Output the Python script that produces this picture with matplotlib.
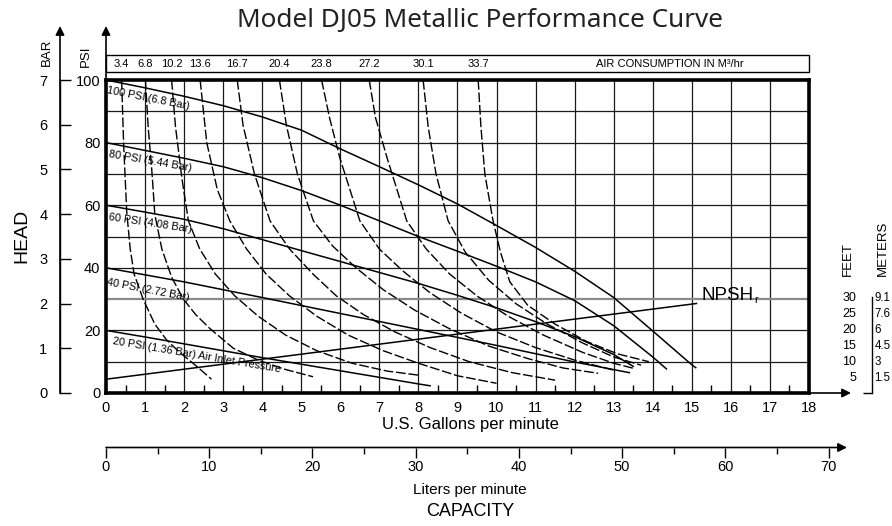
import numpy as np
import matplotlib.pyplot as plt
from matplotlib.patches import FancyArrowPatch, Rectangle
from matplotlib.transforms import blended_transform_factory

plt.rcParams['font.family'] = ['Liberation Sans', 'DejaVu Sans']

W, H = 892, 526

# air inlet pressure curves: capacity (US gpm) vs head (psi)
p100_gpm = [0, 1, 2, 3, 4, 5, 6, 7, 8, 9, 10, 11, 12, 13, 14, 15, 15.1]
p100_psi = [100, 97.5, 94.8, 91.8, 88.2, 84, 78, 72.3, 66.5, 60.4, 53.5, 46.5, 38.9, 30.5, 19.8, 9.0, 8.1]
p80_gpm = [0, 1, 2, 3, 4, 5, 6, 7, 8, 9, 10, 11, 12, 13, 14, 14.35]
p80_psi = [80, 77.5, 75, 72.3, 68.8, 64.7, 60, 55, 50, 45.3, 40.5, 35.5, 29.5, 21.5, 11.5, 7.7]
p60_gpm = [0, 1, 2, 3, 4, 5, 6, 7, 8, 9, 10, 11, 12, 13, 13.5]
p60_psi = [60, 57.8, 55.5, 52.5, 49, 45.5, 42, 38.5, 35, 31.2, 27.2, 22.8, 18, 12.3, 8.5]
p40_gpm = [0, 2, 4, 6, 8, 10, 12, 13.4]
p40_psi = [40, 35.5, 30.5, 25.4, 20.3, 15.2, 9.9, 6.5]
p20_gpm = [0, 1, 2, 3, 4, 5, 6, 7, 8, 8.3]
p20_psi = [20, 17.9, 15.7, 13.5, 11.3, 9.2, 7.1, 5.0, 2.9, 2.3]
npsh_gpm = [0, 15.12]
npsh_psi = [4.4, 28.6]

pressure_labels = ['100 PSI (6.8 Bar)', '80 PSI (5.44 Bar)', '60 PSI (4.08 Bar)',
                   '40 PSI (2.72 Bar)', '20 PSI (1.36 Bar) Air Inlet Pressure']

# air consumption curves (m3/hr)
air_values = ['3.4', '6.8', '10.2', '13.6', '16.7', '20.4', '23.8', '27.2', '30.1', '33.7']
a1_gpm = [0.40, 0.45, 0.53, 0.62, 0.72, 0.95, 1.25, 1.55, 1.9, 2.23, 2.5, 2.7]
a1_psi = [100, 80, 58, 46, 38, 30, 22, 17, 12.8, 9.5, 6.6, 4.4]
a2_gpm = [1.01, 1.08, 1.18, 1.25, 1.43, 1.68, 1.98, 2.3, 2.66, 3.26, 3.9, 4.6, 5.3]
a2_psi = [100, 85, 70, 57, 46, 37, 30, 25, 20.6, 14.3, 10.5, 7.5, 5.2]
a3_gpm = [1.68, 1.78, 1.95, 2.11, 2.4, 2.8, 3.3, 3.9, 4.6, 5.4, 6.3, 7.2, 8.0]
a3_psi = [100, 85, 68, 55, 46, 38, 31, 24.5, 18.5, 13.5, 9.5, 7, 5.7]
a4_gpm = [2.41, 2.58, 2.85, 3.17, 3.6, 4.1, 4.7, 5.4, 6.2, 7.1, 8.0, 9.0, 10.0]
a4_psi = [100, 80, 65, 55, 46, 38, 31, 24.5, 18.5, 13.5, 9.5, 5.5, 3.1]
a5_gpm = [3.36, 3.51, 3.8, 4.2, 4.7, 5.3, 5.9, 6.6, 7.4, 8.3, 9.3, 10.4, 11.5]
a5_psi = [100, 85.5, 70, 55, 46, 38, 31, 25, 19.5, 14.5, 10, 6.5, 4.1]
a6_gpm = [4.44, 4.62, 4.9, 5.31, 5.8, 6.4, 7.1, 7.9, 8.8, 9.8, 10.8, 11.7, 12.6]
a6_psi = [100, 85.5, 70, 55, 47, 40, 33, 26.5, 20.5, 15, 11, 8, 6.3]
a7_gpm = [5.52, 5.73, 5.99, 6.5, 7.0, 7.6, 8.3, 9.1, 10.0, 11.0, 12.0, 13.0]
a7_psi = [100, 87.6, 75, 55, 46, 39, 32, 25.5, 19.5, 14.5, 10.5, 7.3]
a8_gpm = [6.74, 6.9, 7.2, 7.7, 8.2, 8.8, 9.5, 10.3, 11.2, 12.2, 13.0, 13.5]
a8_psi = [100, 88, 75, 55, 46, 38, 31, 24.5, 18.5, 13, 9.5, 7.9]
a9_gpm = [8.12, 8.25, 8.45, 8.76, 9.2, 9.8, 10.5, 11.3, 12.2, 13.0, 13.7]
a9_psi = [100, 85, 70, 55, 45, 36, 28.5, 22, 16, 11.5, 8.9]
a10_gpm = [9.53, 9.6, 9.7, 9.91, 10.1, 10.34, 10.8, 11.5, 12.3, 13.1, 13.9]
a10_psi = [100, 85, 70, 55, 45, 35.5, 28, 22, 16.5, 12.5, 10]

gpm_ticks = list(range(0, 19))
psi_ticks = [0, 20, 40, 60, 80, 100]
bar_ticks = [0, 1, 2, 3, 4, 5, 6, 7]
lpm_ticks = [0, 10, 20, 30, 40, 50, 60, 70]
feet_ticks = [5, 10, 15, 20, 25, 30]
meter_labels = ['1.5', '3', '4.5', '6', '7.6', '9.1']


def fx(px):
    return px / W


def fy(py):
    return 1 - py / H


fig = plt.figure(figsize=(W / 100, H / 100), dpi=100)

ax = fig.add_axes([fx(106), fy(393), 703 / W, 313 / H])
ax.set_xlim(0, 18)
ax.set_ylim(0, 100)

# grid
for g in range(1, 18):
    ax.axvline(g, color='#1a1a1a', lw=0.9, zorder=1)
for p in range(10, 100, 10):
    if p == 30:
        ax.axhline(p, color='#8a8a8a', lw=1.6, zorder=1)
    else:
        ax.axhline(p, color='#1a1a1a', lw=0.9, zorder=1)

solid = [(p100_gpm, p100_psi), (p80_gpm, p80_psi), (p60_gpm, p60_psi),
         (p40_gpm, p40_psi), (p20_gpm, p20_psi), (npsh_gpm, npsh_psi)]
for xs, ys in solid:
    ax.plot(xs, ys, color='black', lw=1.1, zorder=3)

air = [(a1_gpm, a1_psi), (a2_gpm, a2_psi), (a3_gpm, a3_psi), (a4_gpm, a4_psi),
       (a5_gpm, a5_psi), (a6_gpm, a6_psi), (a7_gpm, a7_psi), (a8_gpm, a8_psi),
       (a9_gpm, a9_psi), (a10_gpm, a10_psi)]
for xs, ys in air:
    ax.plot(xs, ys, color='black', lw=1.0, dashes=(7, 2), zorder=3)

# curve labels
label_pos = [(0.06, 98.2, -11.3), (0.1, 78.0, -9.8), (0.08, 57.8, -8.5),
             (0.05, 37.1, -10.9), (0.19, 18.3, -9.6)]
for txt, (lx, ly, rot) in zip(pressure_labels, label_pos):
    ax.text(lx, ly, txt, fontsize=7.8, rotation=rot, rotation_mode='anchor',
            ha='left', va='top', zorder=4)

ax.text(15.25, 31.3, 'NPSH', fontsize=13.5, ha='left', va='center', zorder=4)
ax.text(16.6, 29.6, 'r', fontsize=8, ha='left', va='center', zorder=4)

for s in ax.spines.values():
    s.set_linewidth(2.6)
ax.set_xticks(gpm_ticks)
ax.set_xticks(np.arange(0.5, 18, 1), minor=True)
ax.set_yticks(psi_ticks)
ax.tick_params(axis='x', which='major', length=0, pad=6, labelsize=10.5)
ax.tick_params(axis='x', which='minor', direction='in', length=6, width=1)
ax.tick_params(axis='y', which='major', length=0, pad=4, labelsize=10.5)
ax.tick_params(axis='y', which='minor', length=0)

# air consumption band
bt = blended_transform_factory(ax.transData, ax.transAxes)
ax.add_patch(Rectangle((0, 1.0256), 18, 0.0543, transform=bt, fill=False,
                       lw=1.0, color='black', clip_on=False))
for val, xs in zip(air_values, air):
    ax.text(xs[0][0], 1.0527, val, transform=bt, fontsize=8, ha='center', va='center')
ax.text(14.44, 1.0527, 'AIR CONSUMPTION IN M\u00b3/hr', transform=bt, fontsize=8,
        ha='center', va='center')

# bar scale
ax_bar = fig.add_axes([fx(60), fy(393), 0.0001, 313 / H])
ax_bar.set_ylim(0, 7 * 313 / 315)
ax_bar.set_yticks(bar_ticks)
ax_bar.set_xticks([])
for k in ['right', 'top', 'bottom']:
    ax_bar.spines[k].set_visible(False)
ax_bar.spines['left'].set_linewidth(1.0)
ax_bar.tick_params(axis='y', direction='in', length=8, width=1, pad=9, labelsize=10.5)

# feet / meters scale
ax_ft = fig.add_axes([fx(871.7), fy(393), 0.0001, 313 / H])
ax_ft.set_ylim(0, 97.5)
ax_ft.set_xticks([])
for k in ['right', 'top', 'bottom']:
    ax_ft.spines[k].set_visible(False)
ax_ft.spines['left'].set_bounds(0, 30)
ax_ft.spines['left'].set_linewidth(1.0)
ax_ft.set_yticks(feet_ticks)
ax_ft.set_yticks([0, 10, 20, 30], minor=True)
ax_ft.tick_params(axis='y', which='major', length=0, pad=11, labelsize=9)
ax_ft.tick_params(axis='y', which='minor', length=6.5, width=1)
ax_m = ax_ft.twinx()
ax_m.set_ylim(0, 97.5)
ax_m.set_yticks(feet_ticks)
ax_m.set_yticklabels(meter_labels)
ax_m.tick_params(axis='y', length=0, pad=2, labelsize=8.3)
for s in ax_m.spines.values():
    s.set_visible(False)

# liters scale
ax_l = fig.add_axes([fx(106), fy(447.5), 739 / W, 0.0001])
ax_l.set_xlim(0, 739 / (39.07 / 3.785))
ax_l.set_yticks([])
for k in ['left', 'right', 'top', 'bottom']:
    ax_l.spines[k].set_visible(False)
ax_l.set_xticks(lpm_ticks)
ax_l.set_xticks(np.arange(5, 70, 10), minor=True)
ax_l.tick_params(axis='x', which='major', length=7, width=1, pad=2, labelsize=10.5)
ax_l.tick_params(axis='x', which='minor', length=4.5, width=1)

# axis arrows
def arrow(x0, y0, x1, y1):
    fig.add_artist(FancyArrowPatch((fx(x0), fy(y0)), (fx(x1), fy(y1)),
                                   transform=fig.transFigure, arrowstyle='-|>',
                                   mutation_scale=13, lw=1.2, color='black',
                                   shrinkA=0, shrinkB=0))

arrow(106, 80, 106, 26)
arrow(60, 393, 60, 26)
arrow(809, 393, 851, 393)
arrow(106, 447.5, 847, 447.5)

# text
fig.text(fx(480), fy(20), 'Model DJ05 Metallic Performance Curve', fontsize=18.8,
         family='Noto Sans', color='#222222', ha='center', va='center')
fig.text(fx(22), fy(236), 'HEAD', fontsize=14, rotation=90, ha='center', va='center')
fig.text(fx(47), fy(52), 'BAR', fontsize=9.5, rotation=90, ha='center', va='center')
fig.text(fx(86), fy(56), 'PSI', fontsize=9.5, rotation=90, ha='center', va='center')
fig.text(fx(848), fy(259), 'FEET', fontsize=9.5, rotation=90, ha='center', va='center')
fig.text(fx(883), fy(248), 'METERS', fontsize=9.5, rotation=90, ha='center', va='center')
fig.text(fx(470), fy(424), 'U.S. Gallons per minute', fontsize=12, ha='center', va='center')
fig.text(fx(470), fy(490), 'Liters per minute', fontsize=11, ha='center', va='center')
fig.text(fx(470), fy(512), 'CAPACITY', fontsize=13, ha='center', va='center')

fig.savefig('out.png', dpi=100)
